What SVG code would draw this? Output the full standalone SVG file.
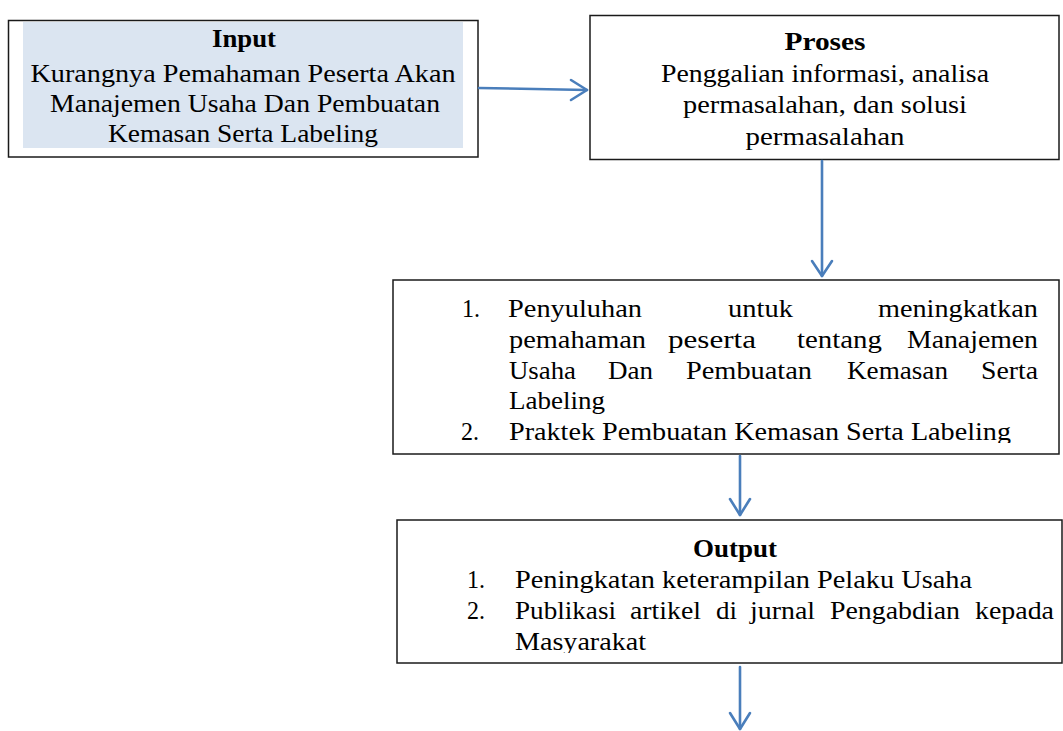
<svg xmlns="http://www.w3.org/2000/svg" width="1063" height="731" viewBox="0 0 1063 731">
  <style>
    .box { fill: #ffffff; stroke: #1a1a1a; stroke-width: 1.5; }
    .t { font-family: "Liberation Serif", "Times New Roman", serif; font-size: 26px; fill: #000000; }
    .b { font-weight: bold; }
    .c { text-anchor: middle; }
    .conn { stroke: #4a7ebb; stroke-width: 2.6; fill: none; stroke-linecap: round; stroke-linejoin: round; }
  </style>
  <defs>
    <clipPath id="clip3"><rect x="393" y="280" width="667" height="163"/></clipPath>
    <clipPath id="clip4"><rect x="397" y="520" width="666" height="133"/></clipPath>
  </defs>
  <rect x="0" y="0" width="1063" height="731" fill="#ffffff"/>

  <g id="node-input">
    <rect class="box" x="8.5" y="20.5" width="469.5" height="136.5"/>
    <rect x="23" y="22" width="440" height="126" fill="#dbe5f1"/>
    <text class="t b c" x="244" y="47" textLength="64" lengthAdjust="spacingAndGlyphs">Input</text>
    <text class="t c" x="243" y="82" textLength="425" lengthAdjust="spacingAndGlyphs">Kurangnya Pemahaman Peserta Akan</text>
    <text class="t c" x="245" y="112" textLength="390" lengthAdjust="spacingAndGlyphs">Manajemen Usaha Dan Pembuatan</text>
    <text class="t c" x="243" y="142" textLength="270" lengthAdjust="spacingAndGlyphs">Kemasan Serta Labeling</text>
  </g>

  <g id="node-proses">
    <rect class="box" x="590" y="15.5" width="469" height="144"/>
    <text class="t b c" x="825" y="50" textLength="81" lengthAdjust="spacingAndGlyphs">Proses</text>
    <text class="t c" x="825" y="82" textLength="328" lengthAdjust="spacingAndGlyphs">Penggalian informasi, analisa</text>
    <text class="t c" x="825" y="113" textLength="284" lengthAdjust="spacingAndGlyphs">permasalahan, dan solusi</text>
    <text class="t c" x="825" y="145" textLength="159" lengthAdjust="spacingAndGlyphs">permasalahan</text>
  </g>

  <g id="node-kegiatan">
    <rect class="box" x="393" y="280" width="666" height="174"/>
    <text class="t" x="462" y="317" textLength="18" lengthAdjust="spacingAndGlyphs">1.</text>
    <text class="t" x="508" y="317" textLength="134" lengthAdjust="spacingAndGlyphs">Penyuluhan</text>
    <text class="t" x="728" y="317" textLength="65" lengthAdjust="spacingAndGlyphs">untuk</text>
    <text class="t" x="878" y="317" textLength="160" lengthAdjust="spacingAndGlyphs">meningkatkan</text>
    <text class="t" x="509" y="348" textLength="137" lengthAdjust="spacingAndGlyphs">pemahaman</text>
    <text class="t" x="668" y="348" textLength="88" lengthAdjust="spacingAndGlyphs">peserta</text>
    <text class="t" x="797" y="348" textLength="85" lengthAdjust="spacingAndGlyphs">tentang</text>
    <text class="t" x="907" y="348" textLength="131" lengthAdjust="spacingAndGlyphs">Manajemen</text>
    <text class="t" x="509" y="379" textLength="67" lengthAdjust="spacingAndGlyphs">Usaha</text>
    <text class="t" x="608" y="379" textLength="45" lengthAdjust="spacingAndGlyphs">Dan</text>
    <text class="t" x="686" y="379" textLength="126" lengthAdjust="spacingAndGlyphs">Pembuatan</text>
    <text class="t" x="847" y="379" textLength="101" lengthAdjust="spacingAndGlyphs">Kemasan</text>
    <text class="t" x="981" y="379" textLength="57" lengthAdjust="spacingAndGlyphs">Serta</text>
    <text class="t" x="509" y="409" textLength="96" lengthAdjust="spacingAndGlyphs">Labeling</text>
    <g clip-path="url(#clip3)">
      <text class="t" x="461" y="440" textLength="18" lengthAdjust="spacingAndGlyphs">2.</text>
      <text class="t" x="509" y="440" textLength="502" lengthAdjust="spacingAndGlyphs">Praktek Pembuatan Kemasan Serta Labeling</text>
    </g>
  </g>

  <g id="node-output">
    <rect class="box" x="397" y="520" width="665" height="143"/>
    <text class="t b c" x="735" y="557" textLength="84" lengthAdjust="spacingAndGlyphs">Output</text>
    <text class="t" x="467" y="588" textLength="18" lengthAdjust="spacingAndGlyphs">1.</text>
    <text class="t" x="515" y="588" textLength="457" lengthAdjust="spacingAndGlyphs">Peningkatan keterampilan Pelaku Usaha</text>
    <text class="t" x="467" y="619" textLength="18" lengthAdjust="spacingAndGlyphs">2.</text>
    <text class="t" x="515" y="619" textLength="101" lengthAdjust="spacingAndGlyphs">Publikasi</text>
    <text class="t" x="630" y="619" textLength="71" lengthAdjust="spacingAndGlyphs">artikel</text>
    <text class="t" x="716" y="619" textLength="21" lengthAdjust="spacingAndGlyphs">di</text>
    <text class="t" x="750" y="619" textLength="65" lengthAdjust="spacingAndGlyphs">jurnal</text>
    <text class="t" x="830" y="619" textLength="130" lengthAdjust="spacingAndGlyphs">Pengabdian</text>
    <text class="t" x="975" y="619" textLength="79" lengthAdjust="spacingAndGlyphs">kepada</text>
    <g clip-path="url(#clip4)">
      <text class="t" x="515" y="650" textLength="131" lengthAdjust="spacingAndGlyphs">Masyarakat</text>
    </g>
  </g>

  <g id="connectors">
    <path class="conn" d="M479,88 L587,90"/>
    <path class="conn" d="M571,80 L587,90 L571,100"/>
    <path class="conn" d="M822,161 L822,276"/>
    <path class="conn" d="M812,261 L822,276 L832,261"/>
    <path class="conn" d="M740,456 L740,515"/>
    <path class="conn" d="M730,499 L740,515 L750,499"/>
    <path class="conn" d="M740,667 L740,729"/>
    <path class="conn" d="M730,713 L740,729 L750,713"/>
  </g>
</svg>
